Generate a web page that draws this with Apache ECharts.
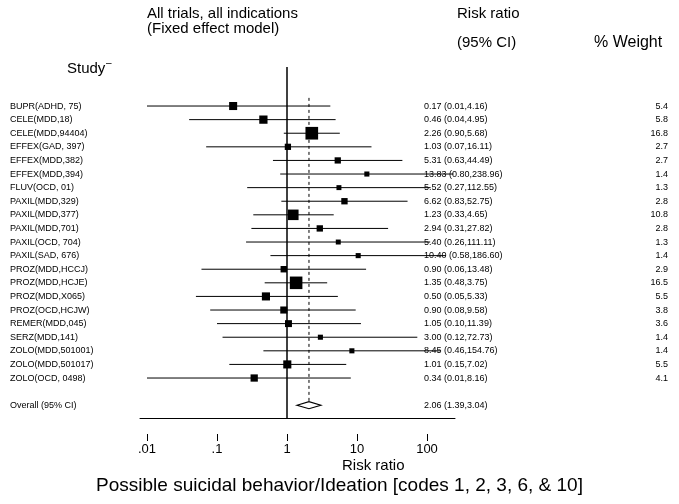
<!DOCTYPE html>
<html><head><meta charset="utf-8">
<script src="https://cdn.jsdelivr.net/npm/echarts@6/dist/echarts.min.js"></script>
<style>html,body{margin:0;padding:0;background:#fff}#c{width:679px;height:504px}</style>
</head><body><div id="c"></div>
<script>
// ---- data ----
const studies = ['BUPR(ADHD, 75)','CELE(MDD,18)','CELE(MDD,94404)','EFFEX(GAD, 397)','EFFEX(MDD,382)','EFFEX(MDD,394)','FLUV(OCD, 01)','PAXIL(MDD,329)','PAXIL(MDD,377)','PAXIL(MDD,701)','PAXIL(OCD, 704)','PAXIL(SAD, 676)','PROZ(MDD,HCCJ)','PROZ(MDD,HCJE)','PROZ(MDD,X065)','PROZ(OCD,HCJW)','REMER(MDD,045)','SERZ(MDD,141)','ZOLO(MDD,501001)','ZOLO(MDD,501017)','ZOLO(OCD, 0498)'];
const riskRatio = [0.17,0.46,2.26,1.03,5.31,13.83,5.52,6.62,1.23,2.94,5.40,10.40,0.90,1.35,0.50,0.90,1.05,3.00,8.45,1.01,0.34];
const ciLow = [0.01,0.04,0.90,0.07,0.63,0.80,0.27,0.83,0.33,0.31,0.26,0.58,0.06,0.48,0.05,0.08,0.10,0.12,0.46,0.15,0.01];
const ciHigh = [4.16,4.95,5.68,16.11,44.49,238.96,112.55,52.75,4.65,27.82,111.11,186.60,13.48,3.75,5.33,9.58,11.39,72.73,154.76,7.02,8.16];
const weights = [5.4,5.8,16.8,2.7,2.7,1.4,1.3,2.8,10.8,2.8,1.3,1.4,2.9,16.5,5.5,3.8,3.6,1.4,1.4,5.5,4.1];
const overallLabel = 'Overall (95% CI)';
const overallValues = [2.06, 1.39, 3.04]; // rr, low, high
const tickValues = [0.01, 0.1, 1, 10, 100];
const tickLabels = ['.01', '.1', '1', '10', '100'];

// ---- layout ----
const FONT = "'Liberation Sans', Arial, sans-serif";
const Y_MIN = -2.87, Y_MAX = 22.94, OVERALL_ROW = 22;
const GRID_TOP = 67, GRID_H = 351;
const COL_NAME_X = 10, COL_CI_X = 424, COL_W_X = 668;
const TABLE_FS = 9;

const fmt = v => v.toFixed(2);
const ciText = (r, l, h) => fmt(r) + ' (' + fmt(l) + ',' + fmt(h) + ')';

const chart = echarts.init(document.getElementById('c'));

const studyData = riskRatio.map((r, i) => [r, ciLow[i], ciHigh[i], weights[i], i]);

const option = {
  backgroundColor: '#fff',
  animation: false,
  grid: [
    {left: 140, width: 315, top: GRID_TOP, height: GRID_H},
    {left: 147, width: 280, top: GRID_TOP, height: GRID_H}
  ],
  xAxis: [
    {type: 'log', logBase: 10, gridIndex: 0, position: 'bottom', min: Math.pow(10, -2.1), max: Math.pow(10, 2.4),
     axisLine: {show: true, onZero: false, lineStyle: {color: '#000', width: 1}}, axisTick: {show: false},
     axisLabel: {show: false}, splitLine: {show: false}},
    {type: 'log', logBase: 10, gridIndex: 1, position: 'bottom', min: tickValues[0], max: tickValues[tickValues.length - 1],
     offset: 16, axisLine: {show: false, onZero: false},
     axisTick: {show: true, length: 7, lineStyle: {color: '#000', width: 1}},
     axisLabel: {show: true, color: '#000', fontSize: 13, fontFamily: FONT, margin: 9,
       formatter: v => tickLabels[Math.round(Math.log10(v)) + 2]},
     splitLine: {show: false}}
  ],
  yAxis: [
    {type: 'value', gridIndex: 0, inverse: true, min: Y_MIN, max: Y_MAX, show: false},
    {type: 'value', gridIndex: 1, inverse: true, min: Y_MIN, max: Y_MAX, show: false}
  ],
  series: [
    { // null line
      type: 'line', xAxisIndex: 0, yAxisIndex: 0, symbol: 'none', silent: true,
      data: [[1, Y_MIN], [1, Y_MAX]],
      lineStyle: {color: '#000', width: 1.5}
    },
    { // overall dashed line
      type: 'line', xAxisIndex: 0, yAxisIndex: 0, symbol: 'none', silent: true,
      data: [[overallValues[0], -0.6], [overallValues[0], OVERALL_ROW - 0.3]],
      lineStyle: {color: '#000', width: 1, type: [3, 3]}
    },
    { // whiskers and boxes
      type: 'custom', xAxisIndex: 0, yAxisIndex: 0, clip: true,
      data: studyData,
      encode: {x: [0, 1, 2], y: 4},
      renderItem: (params, api) => {
        const row = api.value(4);
        const pm = api.coord([api.value(0), row]);
        const pl = api.coord([api.value(1), row]);
        const ph = api.coord([api.value(2), row]);
        const s = 2.6 * Math.sqrt(api.value(3)) + 2;
        return {type: 'group', children: [
          {type: 'line', shape: {x1: pl[0], y1: pm[1], x2: ph[0], y2: pm[1]}, style: {stroke: '#000', lineWidth: 1}},
          {type: 'rect', shape: {x: pm[0] - s / 2, y: pm[1] - s / 2, width: s, height: s}, style: {fill: '#000'}}
        ]};
      }
    },
    { // table texts
      type: 'custom', xAxisIndex: 0, yAxisIndex: 0, clip: false,
      data: studyData,
      encode: {y: 4},
      renderItem: (params, api) => {
        const i = params.dataIndex;
        const y = api.coord([1, api.value(4)])[1];
        const st = {fill: '#000', fontSize: TABLE_FS, fontFamily: FONT, verticalAlign: 'middle'};
        return {type: 'group', children: [
          {type: 'text', x: COL_NAME_X, y: y, style: Object.assign({text: studies[i], align: 'left'}, st)},
          {type: 'text', x: COL_CI_X, y: y, style: Object.assign({text: ciText(riskRatio[i], ciLow[i], ciHigh[i]), align: 'left'}, st)},
          {type: 'text', x: COL_W_X, y: y, style: Object.assign({text: weights[i].toFixed(1), align: 'right'}, st)}
        ]};
      }
    },
    { // overall diamond + texts
      type: 'custom', xAxisIndex: 0, yAxisIndex: 0, clip: false,
      data: [[overallValues[0], overallValues[1], overallValues[2], OVERALL_ROW]],
      encode: {x: [0, 1, 2], y: 3},
      renderItem: (params, api) => {
        const row = api.value(3);
        const pm = api.coord([api.value(0), row]);
        const pl = api.coord([api.value(1), row]);
        const ph = api.coord([api.value(2), row]);
        const h = 3.5;
        const st = {fill: '#000', fontSize: TABLE_FS, fontFamily: FONT, verticalAlign: 'middle'};
        return {type: 'group', children: [
          {type: 'polygon', shape: {points: [[pl[0], pm[1]], [pm[0], pm[1] - h], [ph[0], pm[1]], [pm[0], pm[1] + h]]},
           style: {fill: '#fff', stroke: '#000', lineWidth: 1.2}},
          {type: 'text', x: COL_NAME_X, y: pm[1], style: Object.assign({text: overallLabel, align: 'left'}, st)},
          {type: 'text', x: COL_CI_X, y: pm[1], style: Object.assign({text: ciText(overallValues[0], overallValues[1], overallValues[2]), align: 'left'}, st)}
        ]};
      }
    }
  ],
  graphic: [
    {type: 'text', left: 147, top: 6, style: {text: 'All trials, all indications\n(Fixed effect model)', fill: '#000', fontSize: 15, fontFamily: FONT, lineHeight: 15}},
    {type: 'text', left: 457, top: 6, style: {text: 'Risk ratio', fill: '#000', fontSize: 15, fontFamily: FONT}},
    {type: 'text', left: 457, top: 35, style: {text: '(95% CI)', fill: '#000', fontSize: 15, fontFamily: FONT}},
    {type: 'text', left: 594, top: 35, style: {text: '% Weight', fill: '#000', fontSize: 16, fontFamily: FONT}},
    {type: 'text', left: 67, top: 61, style: {text: 'Study', fill: '#000', fontSize: 15, fontFamily: FONT}},
    {type: 'text', left: 106, top: 58, style: {text: '\u2013', fill: '#000', fontSize: 10, fontFamily: FONT}},
    {type: 'text', left: 342, top: 458, style: {text: 'Risk ratio', fill: '#000', fontSize: 15, fontFamily: FONT}},
    {type: 'text', left: 'center', top: 476, style: {text: 'Possible suicidal behavior/Ideation [codes 1, 2, 3, 6, & 10]', fill: '#000', fontSize: 19, fontFamily: FONT}}
  ]
};
chart.setOption(option);
</script>
</body></html>
